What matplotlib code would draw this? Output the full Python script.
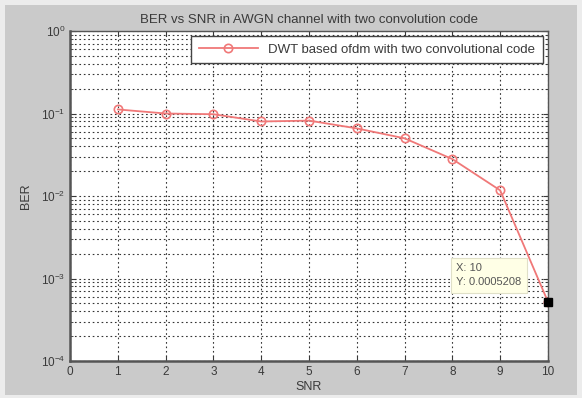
import matplotlib
matplotlib.use("Agg")
import matplotlib.pyplot as plt
from matplotlib.patches import Rectangle

# BER measured at each SNR point
snr = [1, 2, 3, 4, 5, 6, 7, 8, 9, 10]
ber = [0.112, 0.100, 0.098, 0.080, 0.082, 0.066, 0.050, 0.028, 0.0117, 0.0005208]

plt.rcParams['font.family'] = ['Liberation Sans', 'DejaVu Sans']
txt = '#3a3a3a'

fig = plt.figure(figsize=(5.82, 3.98), dpi=100, facecolor='#ececec')
# grey window panel inside a thin light border
fig.patches.append(Rectangle((5 / 582, 3 / 398), 572 / 582, 390 / 398,
                             transform=fig.transFigure, fc='#cacaca', ec='none', zorder=-5))

ax = fig.add_axes([70 / 582, 1 - 361 / 398, 478 / 582, 330 / 398])
ax.set_facecolor('white')

ax.semilogy(snr, ber, '-o', color='#f07878', lw=1.3, ms=6, mfc='none',
            mec='#f07878', mew=1.2,
            label='DWT based ofdm with two convolutional code')

ax.set_xlim(0, 10)
ax.set_ylim(1e-4, 1)
ax.set_xticks(range(0, 11))
ax.grid(True, which='major', ls=(0, (1.5, 2.5)), color='#333333', lw=0.8)
ax.grid(True, which='minor', axis='y', ls=(0, (1.5, 2.5)), color='#333333', lw=0.8)
ax.tick_params(axis='both', which='both', direction='in', labelsize=8.5, colors=txt,
               top=True, right=True)
for s in ax.spines.values():
    s.set_color('#555555')
    s.set_linewidth(1.0)
ax.spines['left'].set_linewidth(1.8)
ax.spines['bottom'].set_linewidth(1.8)

ax.set_title('BER vs SNR in AWGN channel with two convolution code', fontsize=9.5, color=txt, pad=6)
ax.set_xlabel('SNR', fontsize=9, color=txt, labelpad=2)
ax.set_ylabel('BER', fontsize=9, color=txt, labelpad=6)

leg = ax.legend(loc='upper right', fontsize=9.5, fancybox=False, framealpha=1,
                edgecolor='#444444', borderpad=0.55, handlelength=4.5,
                borderaxespad=0.4)
for t in leg.get_texts():
    t.set_color(txt)

# data cursor on the last point
ax.plot(snr[-1], ber[-1], 's', color='black', ms=6, clip_on=False, zorder=5)
ax.annotate('X: 10\nY: 0.0005208', xy=(snr[-1], ber[-1]), xytext=(-66, 19),
            textcoords='offset points', fontsize=8, color='#555555',
            va='center', ha='left', linespacing=1.5,
            bbox=dict(boxstyle='square,pad=0.5', fc='#ffffe6', ec='#e0e0c8', lw=0.8),
            zorder=6)

fig.savefig('out.png', dpi=100, facecolor=fig.get_facecolor())
